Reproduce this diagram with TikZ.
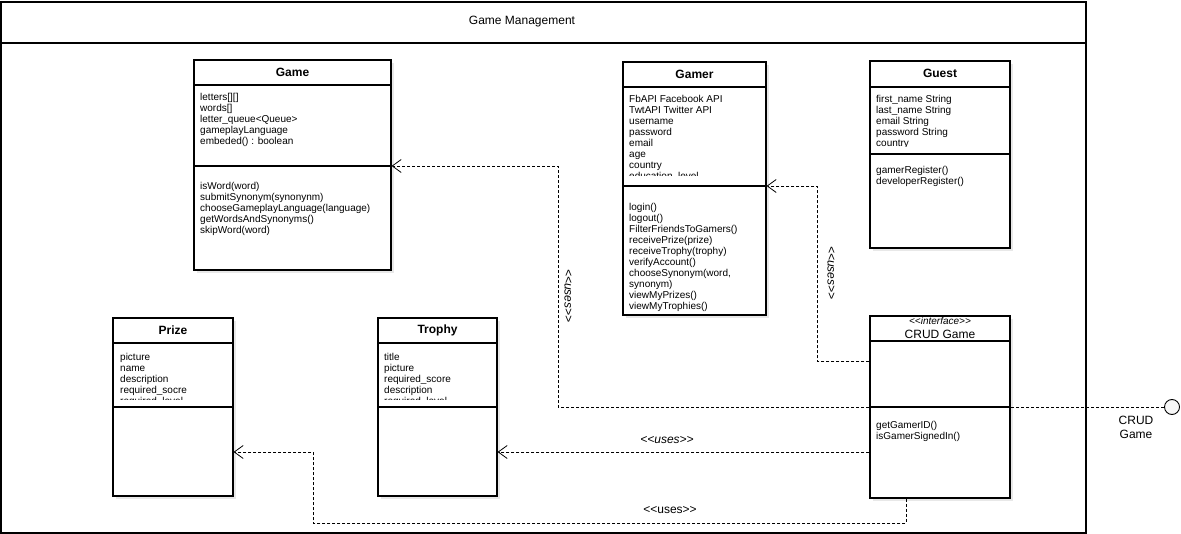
\documentclass[tikz,border=0pt]{standalone}
\usepackage{fontspec}
\setmainfont{Liberation Sans}
\usetikzlibrary{arrows.meta,fit,shadows}
\tikzset{>={Straight Barb[length=9pt,width=13pt]}}
\tikzset{
  classline/.style={line width=1.1pt},
  framebox/.style={draw,line width=1.1pt,inner sep=0pt},
  classbox/.style={draw,line width=1.1pt,fill=white,inner sep=0pt,
    drop shadow={shadow xshift=2.5pt,shadow yshift=-3pt,opacity=0.18}},
  classname/.style={font=\fontsize{12}{14}\selectfont\bfseries,inner sep=0pt},
  members/.style={font=\fontsize{10}{11}\selectfont,align=left,
    anchor=north west,inner sep=0pt},
  bigtext/.style={font=\fontsize{12}{14}\selectfont,inner sep=0pt},
  uses/.style={dash pattern=on 3pt off 2pt,line width=0.8pt},
  usestext/.style={font=\fontsize{12}{14}\selectfont\itshape,inner sep=0pt},
}
\newcommand*{\compline}[2]
  {\draw[classline] (#1.west |- 0,#2) -- (#1.east |- 0,#2)}
\newcommand*{\stereo}[1]{{<}{<}#1{>}{>}}

\begin{document}
\begin{tikzpicture}[x=1pt,y=-1pt]
\useasboundingbox (0,0) rectangle (1181,534);
% package frame
\node[framebox,fit={(1,2) (1086,533)}] (frame) {};
\draw[classline] (frame.west |- 0,43) -- (frame.east |- 0,43);
\node[bigtext] (frametitle) at (522,22) {Game Management};

% Game
\node[classbox,fit={(194,60) (391,270)}] (game) {};
\compline{game}{85};
\compline{game}{166};
\node[classname] (gamename) at (game.north |- 0,72) {Game};
\node[members] (gameattr) at (200,93) {letters[][]\\words[]\\letter\_queue<Queue>\\gameplayLanguage\\embeded() : boolean};
\node[members] (gameops) at (200,182) {isWord(word)\\submitSynonym(synonynm)\\chooseGameplayLanguage(language)\\getWordsAndSynonyms()\\skipWord(word)};

% Gamer
\node[classbox,fit={(623,62) (766,315)}] (gamer) {};
\compline{gamer}{87};
\compline{gamer}{186};
\node[classname] (gamername) at (gamer.north |- 0,74) {Gamer};
\begin{scope}
\clip (gamer.west |- 0,87) rectangle (gamer.east |- 0,176);
\node[members] (gamerattr) at (629,95) {FbAPI Facebook API\\TwtAPI Twitter API\\username\\password\\email\\age\\country\\education\_level};
\end{scope}
\node[members] (gamerops) at (629,203) {login()\\logout()\\FilterFriendsToGamers()\\receivePrize(prize)\\receiveTrophy(trophy)\\verifyAccount()\\chooseSynonym(word,\\synonym)\\viewMyPrizes()\\viewMyTrophies()};

% Guest
\node[classbox,fit={(870,61) (1010,248)}] (guest) {};
\compline{guest}{87};
\compline{guest}{154};
\node[classname] (guestname) at (guest.north |- 0,73) {Guest};
\begin{scope}
\clip (guest.west |- 0,87) rectangle (guest.east |- 0,147);
\node[members] (guestattr) at (876,95) {first\_name String\\last\_name String\\email String\\password String\\country};
\end{scope}
\node[members] (guestops) at (876,166) {gamerRegister()\\developerRegister()};

% Prize
\node[classbox,fit={(113,318) (233,496)}] (prize) {};
\compline{prize}{343};
\compline{prize}{407};
\node[classname] (prizename) at (prize.north |- 0,330) {Prize};
\begin{scope}
\clip (prize.west |- 0,343) rectangle (prize.east |- 0,400);
\node[members] (prizeattr) at (120,353) {picture\\name\\description\\required\_socre\\required\_level};
\end{scope}

% Trophy
\node[classbox,fit={(378,318) (497,496)}] (trophy) {};
\compline{trophy}{343};
\compline{trophy}{407};
\node[classname] (trophyname) at (trophy.north |- 0,330) {Trophy};
\begin{scope}
\clip (trophy.west |- 0,343) rectangle (trophy.east |- 0,400);
\node[members] (trophyattr) at (384,353) {title\\picture\\required\_score\\description\\required\_level};
\end{scope}

% CRUD Game interface
\node[classbox,fit={(870,316) (1010,498)}] (crud) {};
\compline{crud}{341};
\compline{crud}{407};
\node[font=\fontsize{10}{12}\selectfont\itshape,inner sep=0pt] (crudstereo) at (crud.north |- 0,321) {\stereo{interface}};
\node[bigtext] (crudname) at (crud.north |- 0,334) {CRUD Game};
\node[members] (crudops) at (876,421) {getGamerID()\\isGamerSignedIn()};

% provided interface
\node[circle,draw,line width=0.9pt,fill=gray!6,minimum size=15pt,inner sep=0pt] (crudport) at (1172,407) {};
\node[bigtext,align=center] (crudportname) at (1136,427) {CRUD\\Game};

% uses
\draw[uses,->] (crud.west |- 0,361) -| (817,186) -- (gamer.east |- 0,186);
\draw[uses,->] (crudport.west) -- (558,407) |- (game.east |- 0,166);
\draw[uses,->] (crud.west |- 0,452) -- (trophy.east |- 0,452);
\draw[uses,->] (crud.south -| 906,0) |- (313,523) |- (prize.east |- 0,452);
\node[usestext,rotate=-90] (usesgame) at (568,296) {\stereo{uses}};
\node[usestext,rotate=-90] (usesgamer) at (831,273) {\stereo{uses}};
\node[usestext] (usestrophy) at (667,440) {\stereo{uses}};
\node[bigtext] (usesprize) at (670,510) {\stereo{uses}};
\end{tikzpicture}
\end{document}
